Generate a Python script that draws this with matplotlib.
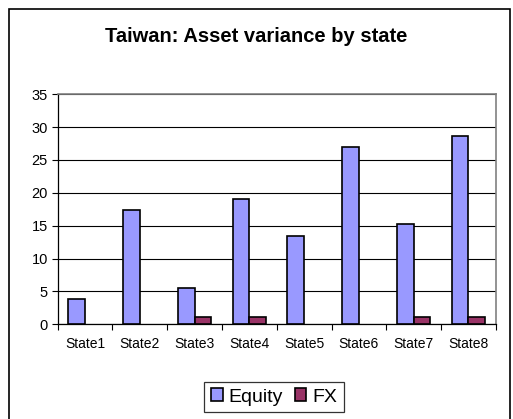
import numpy as np
import matplotlib.pyplot as plt
from matplotlib.patches import Rectangle

states = ["State1", "State2", "State3", "State4", "State5", "State6", "State7", "State8"]
equity = [3.9, 17.4, 5.5, 19.0, 13.5, 27.0, 15.2, 28.7]
fx = [0, 0, 1.1, 1.1, 0, 0, 1.1, 1.1]

plt.rcParams['font.family'] = ['Liberation Sans', 'DejaVu Sans']

fig = plt.figure(figsize=(5.13, 4.19), dpi=100)
ax = fig.add_axes([0.1125, 0.226, 0.854, 0.549])

x = np.arange(len(states))
w = 0.305
ax.bar(x - w / 2, equity, w, color="#9999FF", edgecolor="black", linewidth=1.2, label="Equity", zorder=3)
# zero-height bars get no outline
fx_lw = [1.2 if v > 0 else 0 for v in fx]
ax.bar(x + w / 2, fx, w, color="#993366", edgecolor="black", linewidth=fx_lw, label="FX", zorder=3)

ax.set_xlim(-0.5, len(states) - 0.5)
ax.set_ylim(0, 35)
ax.set_yticks(range(0, 36, 5))
ax.yaxis.grid(True, color="black", linewidth=0.8)
ax.set_axisbelow(True)

# category ticks sit on the boundaries, labels in the middle
ax.set_xticks(np.arange(len(states) + 1) - 0.5)
ax.set_xticklabels([])
ax.set_xticks(x, minor=True)
ax.set_xticklabels(states, minor=True, fontsize=10)
ax.tick_params(axis="x", which="minor", length=0, pad=9)
ax.tick_params(axis="x", which="major", length=4, width=0.8, direction="out")
ax.tick_params(axis="y", length=4, width=0.8, labelsize=10.5, pad=3)

for s in ["top", "right"]:
    ax.spines[s].set_color("#808080")
    ax.spines[s].set_linewidth(1.2)
for s in ["left", "bottom"]:
    ax.spines[s].set_color("black")
    ax.spines[s].set_linewidth(0.9)

fig.text(0.499, 0.899, "Taiwan: Asset variance by state", ha="center", va="baseline",
         fontsize=14.5, fontweight="bold")

leg = fig.legend(loc="center", bbox_to_anchor=(0.534, 0.0525), ncol=2, fontsize=14,
                 frameon=True, fancybox=False, edgecolor="black", handlelength=0.6,
                 handleheight=0.6, handletextpad=0.3, columnspacing=0.6, borderpad=0.35)
leg.get_frame().set_linewidth(0.9)
for h in leg.legend_handles:
    h.set_linewidth(1.2)

# outer chart frame
fig.patches.append(Rectangle((9 / 513, -0.02), 501 / 513, 1.02 - 9 / 419, transform=fig.transFigure,
                             fill=False, edgecolor="black", linewidth=1.2))

fig.savefig("out.png", dpi=100)
